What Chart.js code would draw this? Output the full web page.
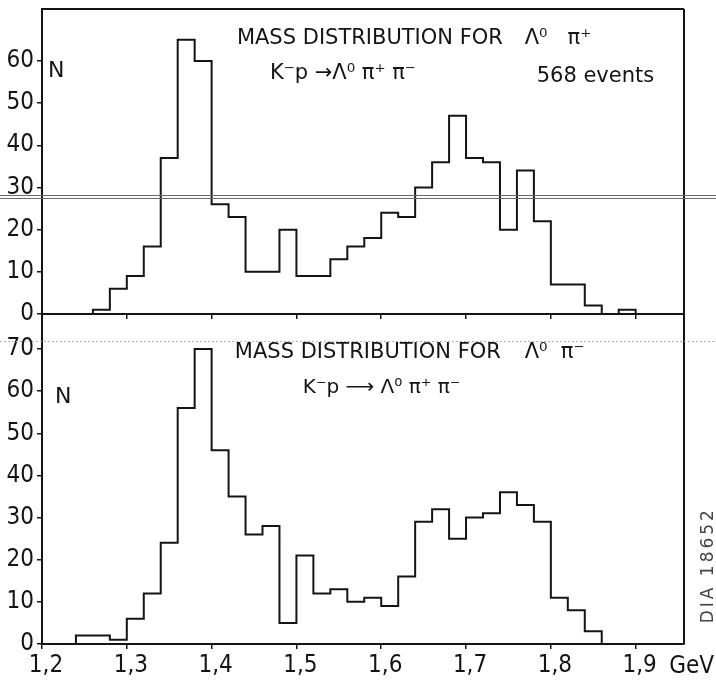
<!DOCTYPE html>
<html>
<head>
<meta charset="utf-8">
<script src="https://cdn.jsdelivr.net/npm/chart.js@4.4.1/dist/chart.umd.min.js"></script>
<style>
html, body { margin: 0; padding: 0; background: #fff; }
#wrap { position: relative; width: 716px; height: 685px; }
#wrap canvas { position: absolute; left: 0; top: 0; }
</style>
</head>
<body>
<div id="wrap">
<canvas id="plusChart" width="716" height="685"></canvas>
<canvas id="minusChart" width="716" height="685"></canvas>
</div>
<script>
// ==========================
// DATA
// ==========================

// Λ0 π+ mass, bin edges (GeV) and events per bin
const plusEdges = [
    1.26, 1.28, 1.30, 1.32, 1.34, 1.36, 1.38, 1.40, 1.42, 1.44, 1.46,
    1.48, 1.50, 1.52, 1.54, 1.56, 1.58, 1.60, 1.62, 1.64, 1.66, 1.68,
    1.70, 1.72, 1.74, 1.76, 1.78, 1.80, 1.82, 1.84, 1.86, 1.88, 1.90
];
const plusCounts = [
    1, 6, 9, 16, 37, 65, 60, 26, 23, 10, 10,
    20, 9, 9, 13, 16, 18, 24, 23, 30, 36, 47,
    37, 36, 20, 34, 22, 7, 7, 2, 0, 1
];

// Λ0 π- mass
const minusEdges = [
    1.24, 1.26, 1.28, 1.30, 1.32, 1.34, 1.36, 1.38, 1.40, 1.42, 1.44,
    1.46, 1.48, 1.50, 1.52, 1.54, 1.56, 1.58, 1.60, 1.62, 1.64, 1.66,
    1.68, 1.70, 1.72, 1.74, 1.76, 1.78, 1.80, 1.82, 1.84, 1.86
];
const minusCounts = [
    2, 2, 1, 6, 12, 24, 56, 70, 46, 35, 26,
    28, 5, 21, 12, 13, 10, 11, 9, 16, 29, 32,
    25, 30, 31, 36, 33, 29, 11, 8, 3
];

const massTicks = [1.2, 1.3, 1.4, 1.5, 1.6, 1.7, 1.8, 1.9];
const plusCountTicks = [0, 10, 20, 30, 40, 50, 60];
const minusCountTicks = [0, 10, 20, 30, 40, 50, 60, 70];

// ==========================
// LOOK
// ==========================

const ink = "#141414";
const textFont = "'DejaVu Sans', sans-serif";
const tickFont =
"'Liberation Sans Narrow', 'DejaVu Sans Condensed', 'DejaVu Sans', sans-serif";

// turn edges + counts into a closed step outline
function outline(edges, counts) {
    let pts = [{ x: edges[0], y: 0 }];
    counts.forEach((c, i) => {
        pts.push({ x: edges[i], y: c });
    });
    pts.push({ x: edges[edges.length - 1], y: 0 });
    return pts;
}

// text placed in data units of the chart
function notesPlugin(notes) {
    return {
        id: "notes",
        afterDraw(chart) {
            const ctx = chart.ctx;
            const xs = chart.scales.x;
            const ys = chart.scales.y;
            ctx.save();
            ctx.textBaseline = "middle";
            notes.forEach(n => {
                ctx.font = n.size + "px " + (n.family || textFont);
                ctx.textAlign = n.align || "left";
                ctx.fillStyle = n.color || ink;
                ctx.letterSpacing = n.spacing || "0px";
                let px = xs.getPixelForValue(n.x);
                let py = ys.getPixelForValue(n.y);
                if (n.rotate) {
                    ctx.save();
                    ctx.translate(px, py);
                    ctx.rotate(-Math.PI / 2);
                    ctx.fillText(n.text, 0, 0);
                    ctx.restore();
                } else {
                    ctx.fillText(n.text, px, py);
                }
            });
            ctx.restore();
        }
    };
}

// frame sides the axes do not draw, plus the marks of the scanned sheet
function framePlugin(sides, seams) {
    return {
        id: "frame",
        afterDraw(chart) {
            const ctx = chart.ctx;
            const a = chart.chartArea;
            const ys = chart.scales.y;
            ctx.save();
            ctx.strokeStyle = ink;
            ctx.lineWidth = 2;
            ctx.beginPath();
            if (sides.top) {
                ctx.moveTo(a.left, a.top);
                ctx.lineTo(a.right, a.top);
            }
            if (sides.right) {
                ctx.moveTo(a.right, a.top);
                ctx.lineTo(a.right, a.bottom);
            }
            ctx.stroke();
            seams.forEach(s => {
                let py = Math.round(ys.getPixelForValue(s.level)) + 0.5;
                ctx.strokeStyle = s.color;
                ctx.lineWidth = 1;
                ctx.setLineDash(s.dash || []);
                ctx.beginPath();
                ctx.moveTo(0, py);
                ctx.lineTo(chart.width, py);
                ctx.stroke();
            });
            ctx.restore();
        }
    };
}

function makeHistogram(id, edges, counts, yTicks, yMax, pad, xHeight, showLabels, extras) {

    return new Chart(document.getElementById(id), {
        type: "line",
        data: {
            datasets: [{
                data: outline(edges, counts),
                // horizontal first, then the step at the next edge
                stepped: "before",
                borderColor: ink,
                borderWidth: 2,
                pointRadius: 0,
                fill: false
            }]
        },
        options: {
            responsive: false,
            animation: false,
            devicePixelRatio: 1,
            layout: { padding: pad },
            plugins: {
                legend: { display: false },
                tooltip: { enabled: false }
            },
            scales: {
                x: {
                    type: "linear",
                    min: 1.2,
                    max: 1.957,
                    afterBuildTicks: s => {
                        s.ticks = massTicks.map(v => ({ value: v }));
                    },
                    afterFit: s => {
                        s.height = xHeight;
                        s.paddingLeft = 0;
                        s.paddingRight = 0;
                    },
                    grid: {
                        drawOnChartArea: false,
                        drawTicks: true,
                        tickLength: 5,
                        color: ink,
                        lineWidth: 1.5
                    },
                    border: { display: true, color: ink, width: 2 },
                    ticks: {
                        display: showLabels,
                        color: ink,
                        padding: 2,
                        labelOffset: 4,
                        maxRotation: 0,
                        autoSkip: false,
                        font: { family: tickFont, size: 24 },
                        callback: v => v.toFixed(1).replace(".", ",")
                    }
                },
                y: {
                    min: 0,
                    max: yMax,
                    afterBuildTicks: s => {
                        s.ticks = yTicks.map(v => ({ value: v }));
                    },
                    afterFit: s => {
                        s.width = 42;
                        s.paddingTop = 0;
                        s.paddingBottom = 0;
                    },
                    grid: {
                        drawOnChartArea: false,
                        drawTicks: true,
                        tickLength: 5,
                        color: ink,
                        lineWidth: 1.5
                    },
                    border: { display: true, color: ink, width: 2 },
                    ticks: {
                        color: ink,
                        padding: 3,
                        autoSkip: false,
                        font: { family: tickFont, size: 24 }
                    }
                }
            }
        },
        plugins: extras
    });
}

// ==========================
// TOP PANEL: Λ0 π+
// ==========================

makeHistogram(
    "plusChart",
    plusEdges,
    plusCounts,
    plusCountTicks,
    72.3,
    { left: 0, top: 9, right: 32, bottom: 371 },
    0,
    false,
    [
        framePlugin(
            { top: true, right: true },
            [
                { level: 28.2, color: "#6a6a6a" },
                { level: 27.6, color: "#6a6a6a" }
            ]
        ),
        notesPlugin([
            { text: "MASS DISTRIBUTION FOR", x: 1.4298, y: 65.2, size: 21 },
            { text: "Λ⁰   π⁺", x: 1.7692, y: 65.2, size: 21 },
            { text: "K⁻p →Λ⁰ π⁺ π⁻", x: 1.4687, y: 56.9, size: 21 },
            { text: "568 events", x: 1.7833, y: 56.4, size: 21 },
            { text: "N", x: 1.2071, y: 57.5, size: 22 }
        ])
    ]
);

// ==========================
// BOTTOM PANEL: Λ0 π-
// ==========================

makeHistogram(
    "minusChart",
    minusEdges,
    minusCounts,
    minusCountTicks,
    78.3,
    { left: 0, top: 314, right: 32, bottom: 0 },
    41,
    true,
    [
        framePlugin(
            { top: false, right: true },
            [
                { level: 71.8, color: "#b4b4b4", dash: [2, 2] }
            ]
        ),
        notesPlugin([
            { text: "MASS DISTRIBUTION FOR", x: 1.4274, y: 69.1, size: 21 },
            { text: "Λ⁰  π⁻", x: 1.7692, y: 69.1, size: 21 },
            { text: "K⁻p ⟶ Λ⁰ π⁺ π⁻", x: 1.5076, y: 60.7, size: 20 },
            { text: "N", x: 1.2153, y: 58.5, size: 22 },
            { text: "GeV", x: 1.966, y: -5.5, size: 24, align: "center", family: tickFont },
            { text: "DIA 18652", x: 1.986, y: 18.7, size: 17, align: "center", rotate: true, color: "#444", spacing: "3px" }
        ])
    ]
);
</script>
</body>
</html>
